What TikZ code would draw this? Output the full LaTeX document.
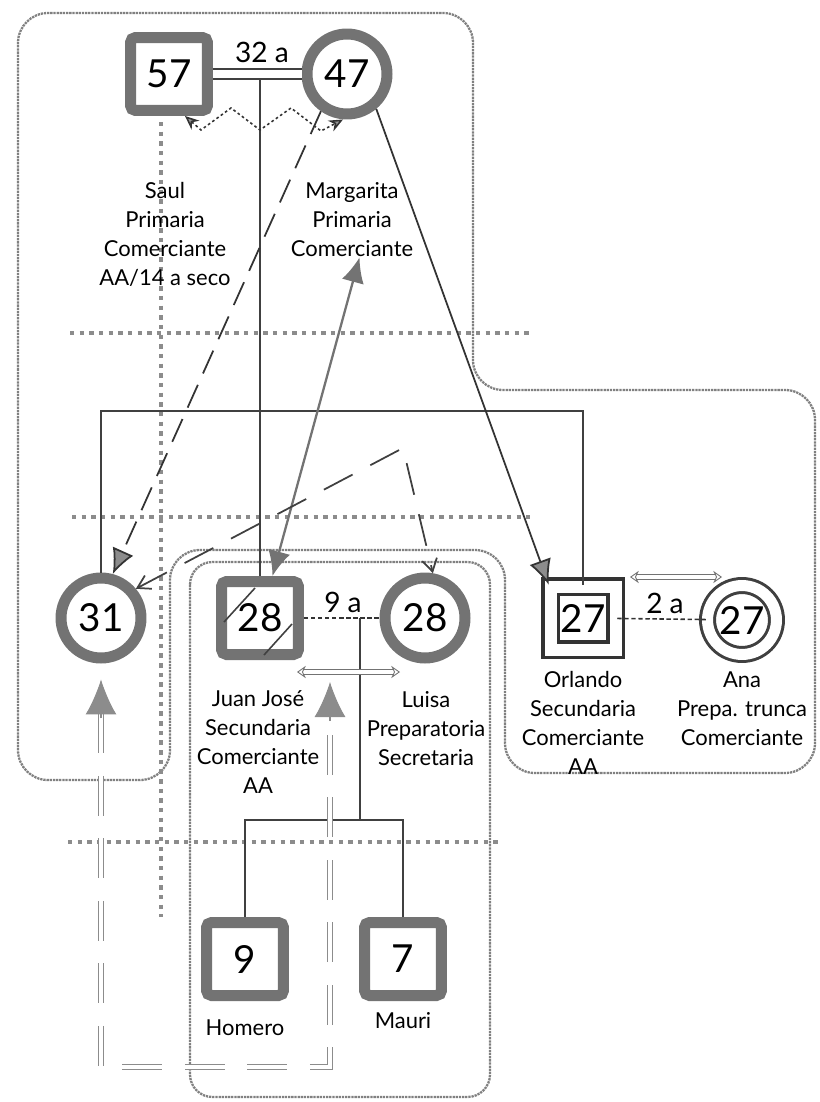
\documentclass[tikz,border=0pt]{standalone}
\usepackage{fontspec}
\setmainfont{Lato}
\usetikzlibrary{calc}
\usetikzlibrary{arrows.meta}
\usepackage{xcolor}

\begin{document}
\begin{tikzpicture}[x=0.02cm, y=-0.02cm,
 male/.style={draw=black!55, line width=0.22cm, rounded corners=0.1cm, minimum width=1.54cm, minimum height=1.46cm, fill=white, font=\fontsize{22}{22}\selectfont},
 female/.style={circle, draw=black!55, line width=0.22cm, minimum size=1.6cm, fill=white, font=\fontsize{22}{22}\selectfont},
 orl/.style={draw=black!80, double=white, double distance=0.24cm, line width=0.07cm, minimum width=1.3cm, minimum height=1.26cm, fill=white, font=\fontsize{22}{22}\selectfont},
 ana/.style={circle, draw=black!75, double=white, double distance=0.22cm, line width=0.06cm, minimum size=1.36cm, fill=white, font=\fontsize{22}{22}\selectfont},
 info/.style={align=center, font=\fontsize{12.5}{16.5}\selectfont, inner sep=0},
 age/.style={font=\fontsize{16}{16}\selectfont},
 kin/.style={black!75, line width=0.9pt},
 wed/.style={black!80, line width=0.9pt, dash pattern=on 2.5pt off 1.5pt},
 wall/.style={black!45, line width=1.8pt, dash pattern=on 2.5pt off 3pt},
 fence/.style={black!50, line width=1.3pt, dash pattern=on 1.3pt off 0.5pt, rounded corners=0.6cm},
 ghost/.style={black!45, line width=0.6pt, double=white, double distance=2.4pt, dash pattern=on 0.8cm off 0.45cm},
 ghosttip/.style={black!45, line width=0.6pt, -{Latex[length=0.7cm,width=0.62cm]}},
 fat/.style={-{Latex[length=0.5cm,width=0.45cm,fill=black!45]}},
 hint/.style={black!80, line width=1pt, dash pattern=on 0.5cm off 0.25cm},
 push/.style={black!80, line width=1pt},
 pull/.style={black!55, line width=1.3pt, {Latex[length=0.5cm,width=0.45cm]}-{Latex[length=0.5cm,width=0.45cm]}},
 hint2/.style={black!75, line width=1pt, dash pattern=on 0.65cm off 0.4cm, {Straight Barb[length=0.25cm,width=0.3cm]}-{Straight Barb[length=0.25cm,width=0.3cm]}},
 spat/.style={black!80, line width=0.9pt, dash pattern=on 1.5pt off 1.5pt, {Stealth[length=0.28cm,width=0.24cm,fill=black!40]}-{Stealth[length=0.28cm,width=0.24cm,fill=black!40]}},
 twin/.style={black!55, line width=0.5pt, double=white, double distance=2.5pt, {Stealth[length=5pt,width=7pt,open]}-{Stealth[length=5pt,width=7pt,open]}},
]
\useasboundingbox (0,0) rectangle (819,1102);

% group outlines
\draw[fence] (18,400) -- (18,13) -- (473,13) -- (473,390) -- (815,390) -- (815,773) -- (505,773) -- (505,550) -- (170,550) -- (170,780) -- (18,780) -- cycle;
\draw[fence, rounded corners=0.45cm] (190,562) rectangle (490,1097);

% walls
\foreach \y/\a/\b in {333/70/530, 517/72/530, 842/68/500}
 \draw[wall] (\a,\y) -- (\b,\y);
\draw[wall] (161,122) -- (161,917);

% people
\node[male] (s57) at (169,74) {57};
\node[female] (m47) at (347,74) {47};
\node[female] (c31) at (101,618) {31};
\node[male] (jj28) at (260,618) {28};
\node[female] (lu28) at (425,618) {28};
\node[orl] (or27) at (583,618) {27};
\node[ana] (an27) at (742,620) {27};
\node[male] (h9) at (245,959) {9};
\node[male] (ma7) at (403,959) {7};
\draw[kin] (224,622) -- (255,588);
\draw[kin] (264,655) -- (292,624);

% texts
\node[info] (tSaul) at (165,234) {Saul\\Primaria\\Comerciante\\AA/14 a seco};
\node[info] (tMarg) at (352,220) {Margarita\\Primaria\\Comerciante};
\node[info] (tJuan) at (258,742) {Juan José\\Secundaria\\Comerciante\\AA};
\node[info] (tLuisa) at (426,729) {Luisa\\Preparatoria\\Secretaria};
\node[info] (tOrl) at (583,723) {Orlando\\Secundaria\\Comerciante\\AA};
\node[info] (tAna) at (742,709) {Ana\\Prepa. trunca\\Comerciante};
\node[info] (tHom) at (245,1028) {Homero};
\node[info] (tMau) at (403,1021) {Mauri};
\node[age] (y32) at (262,52) {32 a};
\node[age] (y9) at (343,602) {9 a};
\node[age] (y2) at (665,603) {2 a};

% family lines
\draw[kin, double, double distance=0.16cm] (s57) -- (m47);
\coordinate (wed57) at (260,79);
\draw[kin] (wed57) -- (jj28.north);
\coordinate (sib) at (101,411);
\draw[kin] (c31.north) -- (sib) -| (or27.north);
\draw[wed] (jj28) -- (lu28);
\coordinate (kids) at (360,820);
\draw[kin] (kids |- jj28) -- (kids);
\draw[kin] (h9.north) |- (kids) -| (ma7.north);
\draw[wed] (or27) -- (an27);

% relations
\draw[hint, fat] (m47.235) -- (c31.75);
\draw[push, fat] (m47.310) -- (or27.north west);
\draw[pull] ([xshift=0.25cm]jj28.north) -- ([xshift=0.15cm]tMarg.south);
\coordinate (peak) at (403,448);
\draw[hint2] (c31.40) -- (peak) -- (lu28.80);
\draw[spat] ([xshift=0.32cm]s57.south) -- ++(16,14) -- ++(30,-22) -- ++(29,22) -- ++(31,-22) -- ++(30,23) -- ([xshift=-0.08cm]m47.south);

% ghost lines
\coordinate (gl) at (97,1067);
\coordinate (gr) at (330,1067);
\coordinate (gtip) at (330,682);
\draw[ghost] ([yshift=-1cm]c31.south) -- (c31.south |- gl) -- (gr) -- ([yshift=-0.68cm]gtip);
\draw[ghosttip] ([yshift=-1.1cm]c31.south) -- ([yshift=-0.32cm]c31.south);
\draw[ghosttip] ([yshift=-0.78cm]gtip) -- (gtip);
\coordinate (tw1) at (297,672);
\coordinate (tw2) at (400,672);
\draw[twin] (tw1) -- (tw2);
\coordinate (tw3) at (630,577);
\coordinate (tw4) at (722,577);
\draw[twin] (tw3) -- (tw4);
\end{tikzpicture}
\end{document}
